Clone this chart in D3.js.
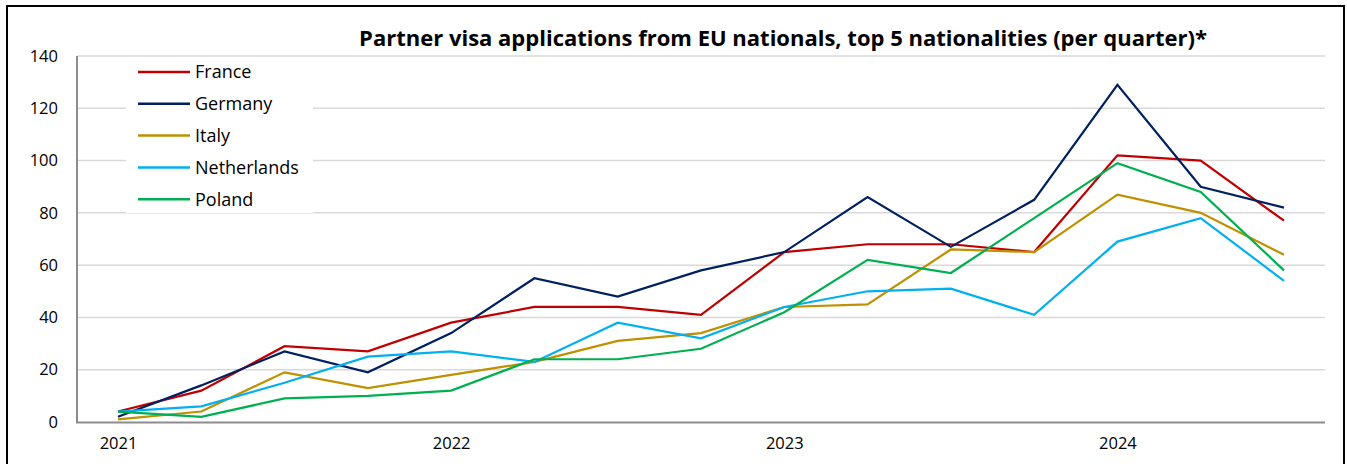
<!DOCTYPE html>
<meta charset="utf-8">
<style>
    body { margin: 0; background: #ffffff; }
    text { font-family: "Open Sans", sans-serif; fill: #000000; }
    .grid line { stroke: #d9d9d9; stroke-width: 1.5; }
    .axis path, .axis line { stroke: none; }
</style>
<body>
<div id="chart"></div>
<script src="https://cdn.jsdelivr.net/npm/d3@7"></script>
<script>

    // quarters 2021 Q1 .. 2024 Q3
    var quarters = ["2021 Q1", "2021 Q2", "2021 Q3", "2021 Q4",
                    "2022 Q1", "2022 Q2", "2022 Q3", "2022 Q4",
                    "2023 Q1", "2023 Q2", "2023 Q3", "2023 Q4",
                    "2024 Q1", "2024 Q2", "2024 Q3"];

    var yearLabels = ["2021", "2022", "2023", "2024"];
    var yTicks = [0, 20, 40, 60, 80, 100, 120, 140];

    var france      = [4, 12, 29, 27, 38, 44, 44, 41, 65, 68, 68, 65, 102, 100, 77];
    var germany     = [2, 14, 27, 19, 34, 55, 48, 58, 65, 86, 67, 85, 129, 90, 82];
    var italy       = [1, 4, 19, 13, 18, 23, 31, 34, 44, 45, 66, 65, 87, 80, 64];
    var netherlands = [4, 6, 15, 25, 27, 23, 38, 32, 44, 50, 51, 41, 69, 78, 54];
    var poland      = [4, 2, 9, 10, 12, 24, 24, 28, 42, 62, 57, 78, 99, 88, 58];

    var seriesNames = ["France", "Germany", "Italy", "Netherlands", "Poland"];
    var seriesColors = ["#c00000", "#002060", "#bf9000", "#00b0f0", "#00b050"];
    var seriesValues = [france, germany, italy, netherlands, poland];

    var svg_dx = 1347, svg_dy = 464;

    var svg = d3.select("#chart")
                .append("svg")
                .attr("width", svg_dx)
                .attr("height", svg_dy);

    // outer frame
    svg.append("rect")
       .attr("x", 7).attr("y", 6)
       .attr("width", 1337).attr("height", 480)
       .attr("fill", "#ffffff")
       .attr("stroke", "#000000")
       .attr("stroke-width", 2);

    var x = d3.scaleLinear().domain([0, quarters.length - 1]).range([118, 1284]),
        y = d3.scaleLinear().domain([0, 140]).range([422, 56]);

    // gridlines
    svg.append("g")
       .attr("class", "grid")
       .selectAll("line")
       .data(yTicks.filter(d => d > 0))
       .enter()
       .append("line")
       .attr("x1", 77).attr("x2", 1325)
       .attr("y1", d => y(d)).attr("y2", d => y(d));

    // y axis labels
    var axis_y = d3.axisLeft(y).tickValues(yTicks).tickSize(0).tickPadding(0);
    var gy = svg.append("g")
       .attr("class", "axis")
       .attr("transform", "translate(58,0)")
       .call(axis_y);
    gy.selectAll("text").style("font-size", "16.5px").attr("font-family", null);

    // x axis labels (one per year, at Q1)
    var axis_x = d3.axisBottom(x)
                   .tickValues([0, 4, 8, 12])
                   .tickFormat((d, i) => yearLabels[i])
                   .tickSize(0).tickPadding(0);
    var gx = svg.append("g")
       .attr("class", "axis")
       .attr("transform", "translate(0,437)")
       .call(axis_x);
    gx.selectAll("text").style("font-size", "16.5px").attr("font-family", null);

    // axis lines
    svg.append("line")
       .attr("x1", 77).attr("x2", 77).attr("y1", 56).attr("y2", 423)
       .attr("stroke", "#8c8c8c").attr("stroke-width", 2);
    svg.append("line")
       .attr("x1", 76).attr("x2", 1325).attr("y1", 422.5).attr("y2", 422.5)
       .attr("stroke", "#8c8c8c").attr("stroke-width", 2);

    // legend background covers gridlines
    svg.append("rect")
       .attr("x", 126).attr("y", 57)
       .attr("width", 187).attr("height", 156)
       .attr("fill", "#ffffff");

    var line = d3.line()
                 .x((d, i) => x(i))
                 .y(d => y(d));

    svg.append("g")
       .selectAll("path")
       .data(seriesValues)
       .enter()
       .append("path")
       .attr("d", d => line(d))
       .attr("fill", "none")
       .attr("stroke", (d, i) => seriesColors[i])
       .attr("stroke-width", 2.2)
       .attr("stroke-linejoin", "miter");

    // legend
    var legend = svg.append("g")
                    .selectAll("g")
                    .data(seriesNames)
                    .enter()
                    .append("g")
                    .attr("transform", (d, i) => "translate(138," + (72 + i * 31.8) + ")");

    legend.append("line")
          .attr("x1", 0).attr("x2", 52)
          .attr("stroke", (d, i) => seriesColors[i])
          .attr("stroke-width", 2.5);

    legend.append("text")
          .attr("x", 57)
          .attr("dy", "0.35em")
          .style("font-size", "18px")
          .text(d => d);

    // title
    svg.append("text")
       .attr("x", 783)
       .attr("y", 46)
       .attr("text-anchor", "middle")
       .style("font-size", "22px")
       .style("font-weight", "bold")
       .text("Partner visa applications from EU nationals, top 5 nationalities (per quarter)*");

</script>
</body>
